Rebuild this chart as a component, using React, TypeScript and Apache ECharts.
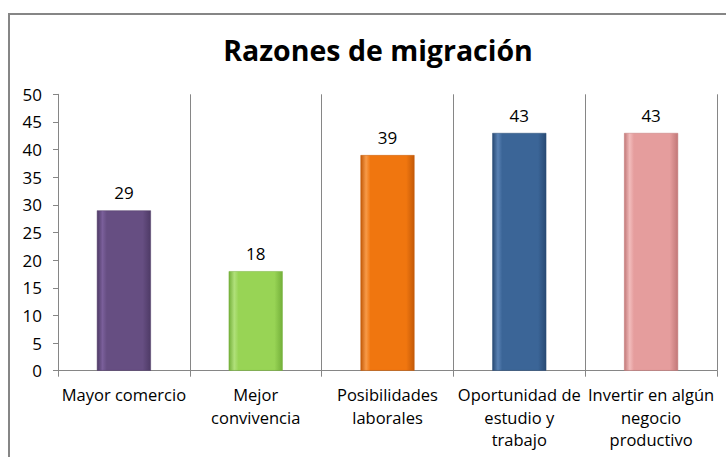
import React, { useEffect, useRef } from "react";
import * as echarts from "echarts";

const categories = [
  "Mayor comercio",
  "Mejor\nconvivencia",
  "Posibilidades\nlaborales",
  "Oportunidad de\nestudio y\ntrabajo",
  "Invertir en algún\nnegocio\nproductivo",
];
const values = [29, 18, 39, 43, 43];
const barColors = [
  ["#4e3a66", "#7a5f9a", "#664e82"],
  ["#74b03a", "#b0e07a", "#98d455"],
  ["#c45a08", "#f89a48", "#f0760f"],
  ["#284a74", "#5a82b4", "#3b6597"],
  ["#c27878", "#f2bcbc", "#e59d9d"],
];
const yTicks = { min: 0, max: 50, interval: 5 };
const titleText = "Razones de migración";

export default function App() {
  const ref = useRef<HTMLDivElement>(null);
  useEffect(() => {
    if (!ref.current) return;
    const chart = echarts.init(ref.current, undefined, { renderer: "svg" });
    const font = "'Open Sans', sans-serif";
    chart.setOption({
      animation: false,
      backgroundColor: "#ffffff",
      title: {
        text: titleText,
        left: 373,
        top: 30,
        textAlign: "center",
        textStyle: { fontFamily: font, fontWeight: "bold", fontSize: 28.5, color: "#000" },
      },
      graphic: [
        {
          type: "rect",
          shape: { x: 9, y: 14, width: 800, height: 500 },
          style: { fill: "none", stroke: "#868686", lineWidth: 2 },
          silent: true,
        },
      ],
      grid: { left: 58, top: 94.3, width: 659, height: 276.4, containLabel: false },
      xAxis: {
        type: "category",
        data: categories,
        boundaryGap: true,
        axisLine: { show: true, lineStyle: { color: "#868686", width: 1 } },
        axisTick: { show: true, length: 6, lineStyle: { color: "#868686" } },
        splitLine: { show: true, lineStyle: { color: "#868686", width: 1 } },
        axisLabel: {
          interval: 0,
          margin: 13,
          fontFamily: font,
          fontSize: 16.5,
          lineHeight: 22.5,
          color: "#000",
        },
      },
      yAxis: {
        type: "value",
        min: yTicks.min,
        max: yTicks.max,
        interval: yTicks.interval,
        axisLine: { show: true, lineStyle: { color: "#868686", width: 1 } },
        axisTick: { show: true, length: 5, lineStyle: { color: "#868686" } },
        splitLine: { show: false },
        axisLabel: { fontFamily: font, fontSize: 17, color: "#000", margin: 16 },
      },
      series: [
        {
          type: "bar",
          barWidth: 54,
          data: values.map((v, i) => ({
            value: v,
            itemStyle: {
              color: new echarts.graphic.LinearGradient(0, 0, 1, 0, [
                { offset: 0, color: barColors[i][0] },
                { offset: 0.1, color: barColors[i][1] },
                { offset: 0.18, color: barColors[i][2] },
                { offset: 0.85, color: barColors[i][2] },
                { offset: 1, color: barColors[i][0] },
              ]),
              borderColor: barColors[i][0],
              borderWidth: 0.5,
            },
          })),
          label: {
            show: true,
            position: "top",
            distance: 9,
            fontFamily: font,
            fontSize: 17,
            color: "#000",
          },
        },
      ],
    });
    return () => chart.dispose();
  }, []);
  return (
    <div
      ref={ref}
      style={{ position: "fixed", left: 0, top: 0, width: 726, height: 457 }}
    />
  );
}
